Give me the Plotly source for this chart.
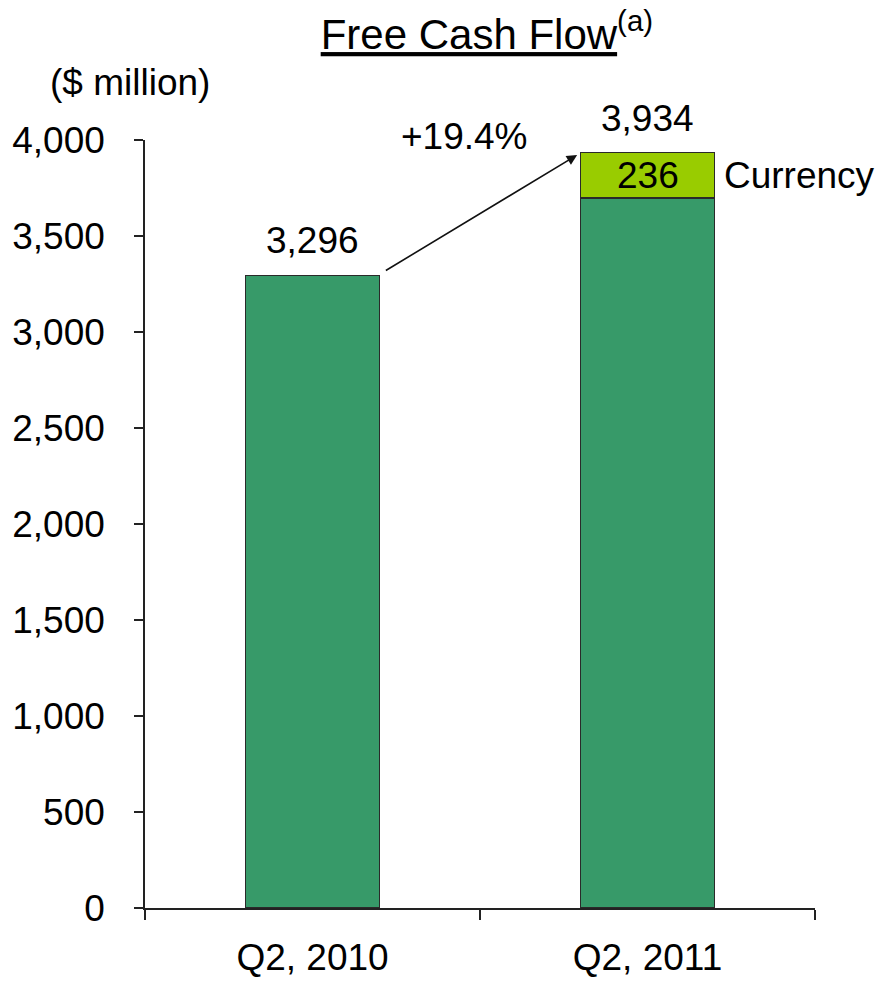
import plotly.graph_objects as go

categories = ["Q2, 2010", "Q2, 2011"]
base_values = [3296, 3698]
currency_values = [0, 236]
totals = [3296, 3934]
growth_label = "+19.4%"
y_ticks = [0, 500, 1000, 1500, 2000, 2500, 3000, 3500, 4000]
y_tick_text = ["0", "500", "1,000", "1,500", "2,000", "2,500", "3,000", "3,500", "4,000"]

FONT = "Liberation Sans, Arial, Helvetica, sans-serif"
DARK = "#379A69"
LIGHT = "#99CC00"
FS = 37

fig = go.Figure()
fig.add_trace(go.Bar(x=categories, y=base_values, width=0.4,
                     marker=dict(color=DARK, line=dict(color="#2a2a2a", width=1.2)),
                     showlegend=False, hoverinfo="skip"))
fig.add_trace(go.Bar(x=categories, y=[v if v else None for v in currency_values], width=0.4,
                     marker=dict(color=LIGHT, line=dict(color="#2a2a2a", width=1.2)),
                     showlegend=False, hoverinfo="skip"))

for c, t in zip(categories, totals):
    fig.add_annotation(x=c, y=t, text=f"{t:,}", showarrow=False, yanchor="bottom",
                       yshift=12, font=dict(size=FS, color="black", family=FONT))

# Currency value and label
for c, b, v in zip(categories, base_values, currency_values):
    if v:
        fig.add_annotation(x=c, y=b + v / 2, text=str(v), showarrow=False,
                           yanchor="middle", font=dict(size=FS, color="black", family=FONT))
        fig.add_annotation(x=c, y=b + v / 2, text="Currency", showarrow=False,
                           xanchor="left", xshift=74,
                           font=dict(size=FS, color="black", family=FONT))

# growth arrow
fig.add_annotation(x=0.79, y=3922, ax=0.21, ay=totals[0] + 15, xref="x", yref="y",
                   axref="x", ayref="y", showarrow=True, arrowhead=2, arrowsize=1.3,
                   arrowwidth=1.6, arrowcolor="#111", text=" ")
fig.add_annotation(x=0.455, y=4000, text=growth_label, showarrow=False, yanchor="middle",
                   yshift=4, font=dict(size=FS, color="black", family=FONT))

# unit label
fig.add_annotation(xref="paper", yref="paper", x=-0.145, y=1.0, yshift=58,
                   text="($ million)", showarrow=False, xanchor="left", yanchor="middle",
                   font=dict(size=FS, color="black", family=FONT))

fig.update_layout(
    width=882, height=982,
    margin=dict(l=145, r=67, t=140, b=74),
    paper_bgcolor="white", plot_bgcolor="white",
    barmode="stack", bargap=0.6,
    title=dict(text="<u>Free Cash Flow</u><sup>(a)</sup>", x=0.552, xanchor="center",
               y=0.965, yanchor="middle",
               font=dict(size=42, color="black", family=FONT)),
    font=dict(family=FONT, color="black"),
)
fig.update_xaxes(range=[-0.5, 1.5], showline=True, linecolor="#222", linewidth=1.5,
                 ticks="outside", tickson="boundaries", ticklen=10, tickcolor="#222",
                 tickwidth=1.5, tickfont=dict(size=FS, color="black", family=FONT),
                 ticklabelstandoff=16, showgrid=False, zeroline=False, automargin=False)
fig.update_yaxes(range=[0, 4000], showline=True, linecolor="#222", linewidth=1.5,
                 ticks="outside", ticklen=9, tickcolor="#222", tickwidth=1.5,
                 tickvals=y_ticks, ticktext=y_tick_text,
                 tickfont=dict(size=FS, color="black", family=FONT),
                 ticklabelstandoff=22, showgrid=False, zeroline=False, automargin=False)

fig.write_html("out.html")
